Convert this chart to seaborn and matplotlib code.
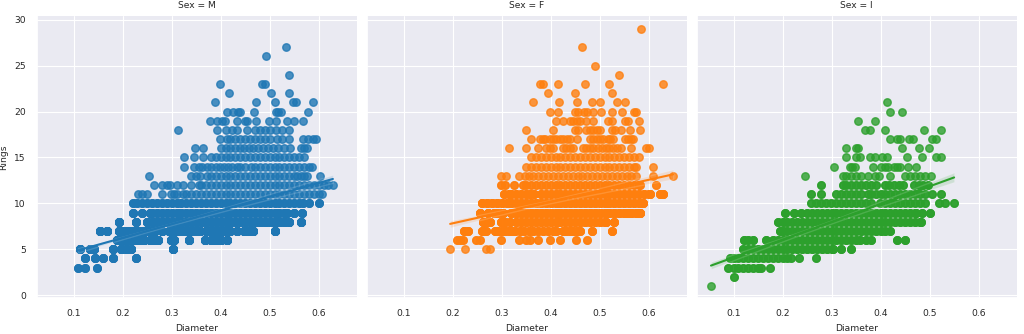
import numpy as np
import pandas as pd
import seaborn as sns
import matplotlib
matplotlib.use("Agg")
import matplotlib.pyplot as plt

sexes = ["M", "F", "I"]

# Diameter values per ring count
male_rows = {
    27: [.534],
    26: [.493],
    24: [.539],
    23: [.399, .484, .490],
    22: [.418, .503, .539],
    21: [.389, .473, .510, .547, .553, .589],
    20: [.413, .426, .435, .440, .468, .513, .518, .524, .578],
    19: [.379, .393, .403, .408, .434, .450, .454, .473, .499, .513, .535, .549, .568],
    18: [.313, .393, .410, .423, .433, .454, .471, .48, .49, .50, .512, .525, .539],
    17: [.399, .413, .42, .43, .44, .45, .46, .47, .48, .49, .50, .515, .525, .539, .568, .578, .588, .595],
    16: [.348, .363, .40, .41, .42, .43, .44, .447, .457, .467, .477, .487, .497, .507, .517, .529, .542, .563, .57, .576],
    15: [.325, .345, .363, .38, .39, .40, .41, .42, .43, .44, .45, .46, .47, .48, .49, .50, .51, .52, .53, .54, .55, .56, .57],
    14: [.326, .345, .355, .362, .372, .38, .39, .399, .406, .415, .423, .433, .44, .45, .461, .471, .48, .49, .50, .51, .52, .53, .54, .549, .56, .57, .58, .586],
    13: [.254, .339, .349, .358, .372, .38, .39, .40, .41, .42, .43, .44, .45, .46, .47, .48, .49, .50, .51, .52, .53, .54, .55, .556, .563, .57, .576, .603],
    12: [.263, .28, .29, .297, .311, .324, .339, .355, .36, .37, .38, .39, .40, .41, .42, .43, .44, .45, .46, .47, .48, .49, .50, .51, .52, .53, .54, .55, .56, .57, .58, .59, .60, .61, .62, .629],
    11: [.231, .24, .25, .28, .299, .305, .311, .324, .33, .34, .35, .36, .37, .38, .39, .40, .41, .42, .43, .44, .45, .46, .47, .48, .49, .50, .51, .52, .53, .54, .55, .56, .57, .58, .59, .60, .607],
    10: [.222, .23, .24, .25, .26, .27, .28, .29, .30, .31, .32, .33, .34, .35, .36, .37, .38, .39, .40, .41, .42, .43, .44, .45, .46, .47, .48, .49, .50, .51, .52, .53, .54, .55, .56, .569, .58, .60],
    9: [.222, .239, .256, .26, .27, .28, .29, .30, .31, .32, .33, .34, .35, .36, .37, .38, .39, .40, .41, .42, .43, .44, .45, .46, .47, .48, .49, .50, .51, .52, .53, .535, .549, .566],
    8: [.193, .228, .25, .26, .27, .28, .29, .30, .31, .32, .33, .34, .35, .36, .37, .38, .39, .40, .41, .42, .43, .44, .45, .46, .47, .48, .49, .50, .51, .52, .529, .539, .564],
    7: [.153, .168, .192, .20, .21, .22, .23, .24, .25, .26, .267, .28, .294, .30, .31, .32, .33, .34, .348, .358, .37, .38, .39, .40, .41, .42, .433, .447, .457, .467, .51],
    6: [.188, .197, .205, .216, .225, .234, .243, .256, .265, .273, .299, .304, .335, .369, .38, .39, .40, .413],
    5: [.114, .134, .141, .18, .197, .207, .217, .303],
    4: [.124, .144, .159, .18, .228],
    3: [.109, .124, .148],
}

female_rows = {
    29: [.585],
    27: [.465],
    25: [.49],
    24: [.539],
    23: [.378, .384, .415, .47, .52, .629],
    22: [.395, .45, .525],
    21: [.365, .418, .454, .484, .50, .535, .551],
    20: [.399, .416, .449, .456, .469, .475, .486, .503, .525, .546, .57, .575],
    19: [.41, .425, .439, .446, .453, .459, .473, .486, .518, .525, .551, .558, .58],
    18: [.35, .405, .449, .456, .473, .48, .487, .494, .50, .525, .531, .544, .561, .582],
    17: [.36, .378, .384, .388, .398, .405, .412, .419, .426, .433, .439, .454, .48, .487, .494, .50, .507, .517, .522, .527, .551, .557, .563, .568],
    16: [.315, .35, .374, .391, .398, .405, .425, .432, .439, .446, .466, .473, .48, .486, .497, .505, .513, .52, .528, .536, .544, .565, .594, .601],
    15: [.36, .37, .38, .39, .40, .41, .42, .43, .44, .45, .46, .47, .48, .49, .50, .51, .52, .53, .54, .55, .56, .57, .58],
    14: [.35, .36, .37, .38, .39, .40, .41, .42, .43, .44, .45, .46, .47, .48, .49, .50, .51, .52, .53, .54, .55, .56, .57, .575, .609],
    13: [.299, .309, .335, .347, .355, .365, .375, .385, .395, .405, .415, .425, .435, .445, .455, .465, .475, .485, .495, .505, .515, .525, .535, .545, .555, .565, .575, .609, .65],
    12: [.299, .306, .325, .344, .35, .36, .37, .38, .39, .40, .41, .42, .43, .44, .45, .46, .47, .48, .49, .50, .51, .52, .53, .54, .55, .56, .57, .58, .582, .616],
    11: [.305, .316, .32, .33, .34, .35, .357, .367, .38, .39, .40, .41, .42, .43, .44, .45, .46, .47, .48, .49, .50, .51, .52, .53, .54, .55, .56, .57, .58, .59, .60, .602, .624, .629],
    10: [.26, .27, .28, .29, .30, .31, .32, .33, .34, .35, .36, .37, .38, .39, .40, .41, .42, .43, .44, .45, .46, .47, .48, .49, .50, .51, .52, .53, .54, .55, .56, .57, .58, .588],
    9: [.256, .272, .284, .29, .30, .303, .32, .33, .34, .35, .36, .37, .38, .39, .40, .41, .42, .43, .44, .45, .46, .47, .48, .49, .50, .51, .52, .53, .54, .55, .555, .565, .575, .582],
    8: [.263, .27, .276, .299, .306, .318, .33, .34, .35, .36, .37, .38, .39, .40, .41, .42, .43, .44, .45, .46, .47, .48, .49, .50, .51, .514, .529],
    7: [.223, .231, .259, .264, .269, .286, .293, .30, .306, .316, .322, .327, .337, .345, .355, .365, .375, .385, .395, .405, .412, .425, .432, .44, .446, .453, .459, .484, .525],
    6: [.209, .215, .221, .248, .256, .299, .335, .35, .357, .374, .399, .42, .451, .474],
    5: [.195, .225, .269, .276],
}

infant_rows = {
    21: [.414],
    20: [.42, .444],
    19: [.354, .388],
    18: [.368, .378, .41, .488, .524],
    17: [.42, .433, .439, .459, .466, .504, .514],
    16: [.329, .349, .354, .444, .478, .499],
    15: [.33, .349, .359, .378, .388, .403, .414, .454, .484, .514, .524],
    14: [.304, .337, .342, .347, .384, .401, .408, .415, .427, .433, .439, .456, .473],
    13: [.245, .323, .33, .34, .35, .36, .374, .388, .397, .42, .449, .46, .47, .48, .49, .503],
    12: [.279, .323, .33, .34, .35, .36, .37, .38, .39, .408, .418, .428, .438, .446, .469, .478, .487, .497],
    11: [.259, .279, .31, .32, .33, .34, .35, .361, .374, .38, .39, .40, .41, .42, .43, .44, .45, .46, .47, .48, .49, .505, .524],
    10: [.259, .269, .279, .289, .299, .31, .32, .33, .34, .35, .36, .37, .38, .398, .41, .42, .43, .44, .45, .46, .47, .48, .49, .52, .531, .55],
    9: [.204, .223, .238, .25, .26, .27, .28, .29, .30, .31, .32, .33, .34, .35, .36, .37, .38, .39, .40, .41, .42, .43, .44, .45, .46, .47, .473, .484, .50],
    8: [.19, .20, .21, .22, .23, .24, .25, .26, .27, .28, .29, .30, .31, .32, .33, .34, .35, .36, .37, .38, .39, .40, .41, .42, .43, .44, .45, .46, .47, .48, .483],
    7: [.194, .20, .21, .22, .23, .24, .25, .26, .27, .28, .29, .30, .31, .32, .33, .34, .35, .36, .37, .38, .39, .40, .408, .42],
    6: [.122, .13, .139, .167, .18, .19, .20, .21, .22, .23, .24, .25, .26, .27, .28, .29, .30, .31, .32, .33, .34, .35, .357, .371, .381, .433, .449],
    5: [.119, .13, .14, .15, .16, .17, .18, .19, .20, .21, .22, .23, .24, .25, .26, .27, .28, .29, .30, .303, .32, .339],
    4: [.092, .10, .11, .12, .13, .14, .15, .16, .17, .18, .19, .20, .21, .218, .233, .269],
    3: [.088, .10, .11, .12, .13, .14, .15, .156, .175],
    2: [.10],
    1: [.054],
}

# Estimated number of overlapping (hidden) specimens at each listed point, per ring
male_overlap = {3: 3, 4: 5, 5: 9, 6: 12, 7: 12, 8: 9, 9: 5, 10: 3}
female_overlap = {6: 2, 7: 4, 8: 5, 9: 6, 10: 5, 11: 4, 12: 2}
infant_overlap = {2: 2, 3: 2, 4: 2, 5: 3, 6: 3, 7: 3, 8: 3, 9: 3, 10: 2, 11: 2, 12: 2}

x_ticks = [0.1, 0.2, 0.3, 0.4, 0.5, 0.6]
y_ticks = [0, 5, 10, 15, 20, 25, 30]

records = []
for sex, rows, overlap in zip(sexes, [male_rows, female_rows, infant_rows],
                              [male_overlap, female_overlap, infant_overlap]):
    for ring, diams in rows.items():
        for d in diams:
            for _ in range(overlap.get(ring, 1)):
                records.append((sex, d, ring))
df = pd.DataFrame(records, columns=["Sex", "Diameter", "Rings"])

fs = 6.6
sns.set_theme(style="darkgrid", rc={
    "font.size": fs, "axes.labelsize": fs, "axes.titlesize": fs,
    "xtick.labelsize": fs, "ytick.labelsize": fs,
    "grid.linewidth": 0.8,
})

g = sns.lmplot(data=df, x="Diameter", y="Rings", col="Sex", hue="Sex",
               col_order=sexes, hue_order=sexes, palette="tab10",
               height=3.34, aspect=1.022, seed=0,
               scatter_kws=dict(s=29), line_kws=dict(lw=1.5))
g.set(xlim=(0.025, 0.678), ylim=(-0.3, 30.4), xticks=x_ticks, yticks=y_ticks)
for ax in g.axes.flat:
    ax.tick_params(pad=2)
    ax.set_xticklabels([str(t) for t in x_ticks])
fig = g.figure
fig.set_size_inches(10.24, 3.34)
fig.subplots_adjust(left=0.036, right=0.993, bottom=0.108, top=0.952, wspace=0.031)
fig.savefig("out.png", dpi=100)
